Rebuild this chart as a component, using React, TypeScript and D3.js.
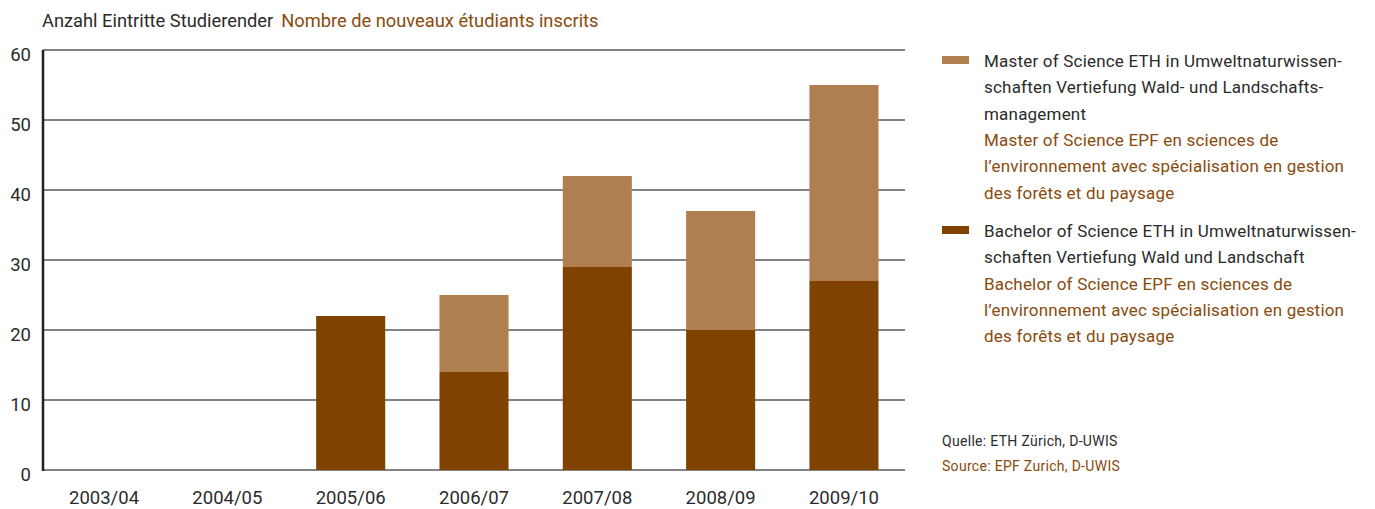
import React from "react";
import * as d3 from "d3";

const categories = ["2003/04", "2004/05", "2005/06", "2006/07", "2007/08", "2008/09", "2009/10"];
const bachelorValues = [0, 0, 22, 14, 29, 20, 27];
const masterValues = [0, 0, 0, 11, 13, 17, 28];
const yTicks = [0, 10, 20, 30, 40, 50, 60];

const titleDe = "Anzahl Eintritte Studierender";
const titleFr = "Nombre de nouveaux étudiants inscrits";

const masterLegendDe = [
  "Master of Science ETH in Umweltnaturwissen-",
  "schaften Vertiefung Wald- und Landschafts-",
  "management",
];
const masterLegendFr = [
  "Master of Science EPF en sciences de",
  "l’environnement avec spécialisation en gestion",
  "des forêts et du paysage",
];
const bachelorLegendDe = [
  "Bachelor of Science ETH in Umweltnaturwissen-",
  "schaften Vertiefung Wald und Landschaft",
];
const bachelorLegendFr = [
  "Bachelor of Science EPF en sciences de",
  "l’environnement avec spécialisation en gestion",
  "des forêts et du paysage",
];
const sourceDe = "Quelle: ETH Zürich, D-UWIS";
const sourceFr = "Source: EPF Zurich, D-UWIS";

const DARK = "#7f4200";
const LIGHT = "#b07f50";
const TEXT = "#2b2b2b";
const BROWN = "#8a4a0c";
const FONT = "Roboto, 'Liberation Sans', sans-serif";

export default function App() {
  const W = 1375;
  const H = 509;
  const left = 43;
  const right = 905;
  const top = 50;
  const bottom = 470;

  const x = d3.scaleBand<string>().domain(categories).range([left, right]).paddingInner(0.44).paddingOuter(0.215);
  const y = d3.scaleLinear().domain([0, 60]).range([bottom, top]);

  const rows = categories.map((c, i) => ({ cat: c, bachelor: bachelorValues[i], master: masterValues[i] }));
  const stack = d3.stack<any>().keys(["bachelor", "master"]);
  const series = stack(rows);
  const colors: Record<string, string> = { bachelor: DARK, master: LIGHT };

  const legendX = 984;
  const lh = 26.3;
  const legendFont = 17;
  const ls = 0.2;

  const legendBlock = (de: string[], fr: string[], y0: number, color: string) => {
    const lines = [...de.map((t) => ({ t, c: TEXT })), ...fr.map((t) => ({ t, c: BROWN }))];
    return (
      <g>
        <rect x={942} y={y0 - 11} width={27} height={8} fill={color} />
        {lines.map((l, i) => (
          <text key={i} x={legendX} y={y0 + i * lh} fill={l.c} fontSize={legendFont} letterSpacing={ls}>
            {l.t}
          </text>
        ))}
      </g>
    );
  };

  return (
    <svg width={W} height={H} style={{ position: "absolute", left: 0, top: 0, background: "#fff" }} fontFamily={FONT}>
      <text x={42} y={27} fontSize={18.3}>
        <tspan fill={TEXT}>{titleDe}</tspan>
        <tspan fill={BROWN} dx={8}>{titleFr}</tspan>
      </text>

      {yTicks.map((t) => (
        <g key={t}>
          <line x1={left} x2={right} y1={y(t)} y2={y(t)} stroke="#5a5a5a" strokeWidth={1.5} />
          <text x={31} y={y(t) + 11} textAnchor="end" fontSize={18.5} fill={TEXT}>
            {t}
          </text>
        </g>
      ))}

      {series.map((s) => (
        <g key={s.key} fill={colors[s.key]}>
          {s.map((d, i) => (
            <rect
              key={i}
              x={x(categories[i])}
              y={y(d[1])}
              width={x.bandwidth()}
              height={Math.max(0, y(d[0]) - y(d[1]))}
            />
          ))}
        </g>
      ))}

      <line x1={left} x2={left} y1={top} y2={bottom + 1} stroke="#222" strokeWidth={2.5} />

      {categories.map((c) => (
        <text key={c} x={(x(c) as number) + x.bandwidth() / 2} y={504} textAnchor="middle" fontSize={18.5} fill={TEXT}>
          {c}
        </text>
      ))}

      {legendBlock(masterLegendDe, masterLegendFr, 67, LIGHT)}
      {legendBlock(bachelorLegendDe, bachelorLegendFr, 237, DARK)}

      <text x={942} y={446} fontSize={14} fill={TEXT} letterSpacing={0.3}>
        {sourceDe}
      </text>
      <text x={942} y={471} fontSize={14} fill={BROWN} letterSpacing={0.3}>
        {sourceFr}
      </text>
    </svg>
  );
}
